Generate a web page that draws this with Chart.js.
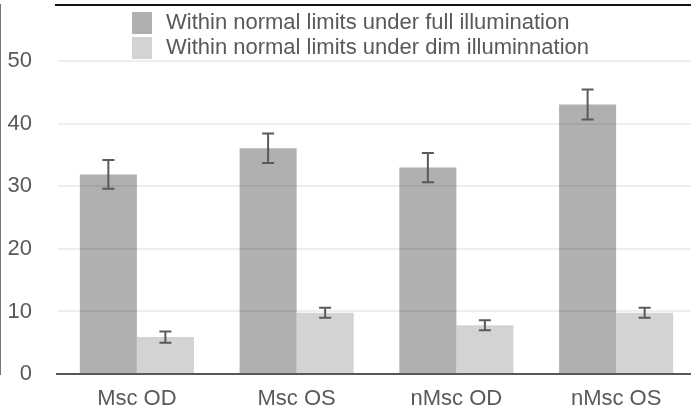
<!DOCTYPE html>
<html>
<head>
<meta charset="utf-8">
<script src="https://cdn.jsdelivr.net/npm/chart.js@4/dist/chart.umd.min.js"></script>
<style>
  html, body { margin: 0; padding: 0; background: #fff; overflow: hidden; }
  #wrap { width: 696px; height: 413px; position: relative; }
</style>
</head>
<body>
<div id="wrap"><canvas id="c"></canvas></div>
<script>
const categories = ['Msc OD', 'Msc OS', 'nMsc OD', 'nMsc OS'];
const seriesNames = ['Within normal limits under full illumination', 'Within normal limits under dim illuminnation'];
const fullValues = [31.9, 36.1, 33.0, 43.1];
const fullErrors = [2.3, 2.35, 2.35, 2.4];
const dimValues = [5.9, 9.8, 7.8, 9.8];
const dimErrors = [0.9, 0.8, 0.8, 0.8];
const yTicks = [0, 10, 20, 30, 40, 50];

const FONT = '"Liberation Sans", Arial, sans-serif';
const TEXT = '#595959';

// error whiskers on top of each bar
const errorBars = {
  id: 'errorBars',
  afterDatasetsDraw(chart) {
    const ctx = chart.ctx;
    const y = chart.scales.y;
    ctx.save();
    ctx.strokeStyle = '#5a5a5a';
    ctx.lineWidth = 2;
    chart.data.datasets.forEach((ds, i) => {
      const meta = chart.getDatasetMeta(i);
      meta.data.forEach((bar, j) => {
        const v = ds.data[j], e = ds.errors[j];
        const top = y.getPixelForValue(v + e);
        const bot = y.getPixelForValue(v - e);
        const x = bar.x;
        ctx.beginPath();
        ctx.moveTo(x, top); ctx.lineTo(x, bot);
        ctx.moveTo(x - 6, top); ctx.lineTo(x + 6, top);
        ctx.moveTo(x - 6, bot); ctx.lineTo(x + 6, bot);
        ctx.stroke();
      });
    });
    ctx.restore();
  }
};

// top frame line and the stacked legend inside the plot
const frameAndLegend = {
  id: 'frameAndLegend',
  afterDraw(chart) {
    const ctx = chart.ctx;
    const a = chart.chartArea;
    ctx.save();
    ctx.strokeStyle = '#111';
    ctx.lineWidth = 2;
    ctx.beginPath();
    ctx.moveTo(a.left - 2, a.top);
    ctx.lineTo(chart.width, a.top);
    ctx.stroke();

    ctx.font = '22px ' + FONT;
    ctx.textBaseline = 'alphabetic';
    ctx.textAlign = 'left';
    chart.data.datasets.forEach((ds, i) => {
      const rowY = 12 + i * 25;
      ctx.fillStyle = ds.backgroundColor;
      ctx.fillRect(132, rowY, 20, 22);
      ctx.fillStyle = TEXT;
      ctx.fillText(ds.label, 166, rowY + 17);
    });
    ctx.restore();
  }
};

new Chart(document.getElementById('c'), {
  type: 'bar',
  data: {
    labels: categories,
    datasets: [
      { label: seriesNames[0], data: fullValues, errors: fullErrors, backgroundColor: '#b0b0b0' },
      { label: seriesNames[1], data: dimValues, errors: dimErrors, backgroundColor: '#d3d3d3' }
    ]
  },
  options: {
    responsive: true,
    maintainAspectRatio: false,
    animation: false,
    layout: { autoPadding: false, padding: { top: 5, left: 0, right: 0, bottom: 0 } },
    datasets: { bar: { categoryPercentage: 0.714, barPercentage: 1.0 } },
    plugins: { legend: { display: false }, tooltip: { enabled: false } },
    scales: {
      x: {
        grid: { display: false, drawTicks: false },
        border: { display: true, color: '#5e5e5e', width: 2 },
        ticks: { color: TEXT, font: { family: FONT, size: 22 }, padding: 12 },
        afterFit(s) { s.height = 39; s.paddingLeft = 0; s.paddingRight = 0; }
      },
      y: {
        min: 0,
        max: 59,
        afterBuildTicks(s) { s.ticks = yTicks.map(v => ({ value: v })); },
        grid: { color: 'rgba(0,0,0,0.065)', lineWidth: 2, drawTicks: false, z: 1 },
        border: { display: true, color: '#777', width: 2 },
        ticks: { color: TEXT, font: { family: FONT, size: 22 }, padding: 25 },
        afterFit(s) { s.width = 57; s.paddingTop = 0; s.paddingBottom = 0; }
      }
    }
  },
  plugins: [errorBars, frameAndLegend]
});
</script>
</body>
</html>
